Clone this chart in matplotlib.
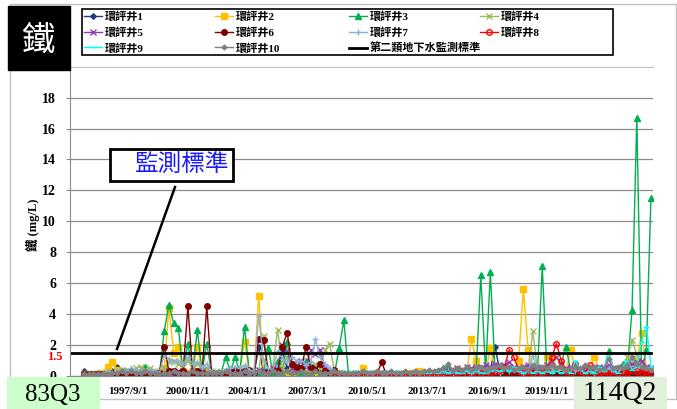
import numpy as np
import pandas as pd
import matplotlib
matplotlib.use("Agg")
import matplotlib.pyplot as plt
from matplotlib.patches import Rectangle
from matplotlib.lines import Line2D

plt.rcParams['font.family'] = ['Liberation Serif', 'Noto Sans CJK TC']

nan = np.nan

# quarterly sampling dates, 83Q3 .. 114Q2
dates = pd.date_range('1994-08-01', periods=124, freq='3MS')

well1 = [nan, nan, nan, 0.3, 0.1, 0.1, 0.2, 0.1, 0.2, 0.3,
         0.6, 0.2, 0.1, 0.1, 0.2, 0.1, 0.1, 0.1, 0.2, 0.1,
         0.1, 0.2, 0.1, 0.1, 0.2, 0.1, 0.1, 0.2, 0.1, 0.1,
         0.1, 0.1, 0.1, 0.2, 0.1, 0.1, 0.2, 0.1, 0.1, 0.1,
         1.9, 0.2, 0.1, 0.3, 0.1, 1.6, 0.5, 0.2, 0.1, 0.3,
         0.2, 0.1, 0.1, 0.3, 0.1, 0.1, 0.1, 0.1, 0.1, 0.1,
         0.1, 0.1, 0.1, 0.1, 0.1, 0.1, 0.1, 0.1, 0.1, 0.1,
         0.1, 0.1, 0.1, 0.1, 0.1, 0.2, 0.1, 0.1, 0.2, 0.1,
         0.2, 0.1, 0.2, 0.1, 0.3, 0.2, 0.1, 0.2, 0.3, 0.4,
         1.9, 0.3, 0.2, 0.5, 0.3, 0.2, 0.3, 0.2, 0.3, 0.2,
         0.3, 0.2, 0.4, 0.3, 0.5, 0.2, 0.3, 0.2, 0.3, 0.2,
         0.3, 0.2, 0.2, 0.4, 0.3, 0.2, 0.3, 0.2, 0.5, 0.3,
         0.2, 0.4, 0.3, 0.2]
well2 = [nan, nan, nan, 0.1, 0.1, 0.1, 0.1, 0.2, 0.6, 0.9,
         0.4, 0.3, 0.2, 0.1, 0.1, 0.2, 0.1, 0.1, 0.2, 0.1,
         0.5, 4.4, 1.5, 1.9, 0.3, 0.2, 0.3, 1.9, 0.2, 0.3,
         0.1, 0.1, 0.2, 0.1, 0.2, 0.1, 0.3, 2.2, 0.3, 0.2,
         5.2, 0.2, 0.1, 0.2, 0.1, 0.2, 0.1, 0.3, 0.1, 0.2,
         0.1, 0.1, 0.2, 0.1, 0.2, 0.1, 0.1, 0.2, 0.1, 0.1,
         0.1, 0.1, 0.5, 0.1, 0.1, 0.2, 0.1, 0.1, 0.1, 0.1,
         0.1, 0.1, 0.2, 0.1, 0.3, 0.2, 0.1, 0.2, 0.2, 0.3,
         0.2, 0.3, 0.4, 0.3, 0.2, 2.4, 1.0, 0.3, 0.2, 1.8,
         0.3, 0.2, 0.4, 0.3, 0.2, 1.0, 5.6, 1.7, 0.3, 0.2,
         0.3, 1.2, 1.2, 0.5, 0.3, 0.3, 1.7, 0.4, 0.2, 0.3,
         0.3, 1.2, 0.4, 0.3, 0.5, 0.3, 0.2, 0.5, 0.6, 1.0,
         1.0, 2.8, 0.5, 0.3]
well3 = [nan, nan, nan, 0.1, 0.1, 0.1, 0.1, 0.1, 0.2, 0.1,
         0.2, 0.3, 0.3, 0.4, 0.2, 0.3, 0.6, 0.3, 0.2, 0.1,
         2.9, 4.6, 3.4, 3.1, 0.2, 2.1, 0.2, 3.0, 0.3, 2.1,
         0.2, 0.1, 0.2, 1.2, 0.3, 1.2, 0.3, 3.2, 0.2, 0.1,
         0.2, 0.3, 1.8, 0.2, 1.0, 0.2, 2.2, 0.3, 0.8, 0.2,
         1.0, 0.2, 0.5, 0.1, 0.3, 0.2, 0.1, 1.8, 3.6, 0.1,
         0.1, 0.1, 0.1, 0.1, 0.1, 0.1, 0.2, 0.1, 0.1, 0.1,
         0.1, 0.1, 0.1, 0.1, 0.1, 0.1, 0.1, 0.2, 0.3, 0.5,
         0.6, 0.3, 0.2, 0.3, 0.2, 0.4, 0.3, 6.5, 0.2, 6.7,
         0.3, 0.5, 0.4, 0.2, 0.3, 0.2, 0.3, 0.4, 0.3, 0.2,
         7.1, 0.2, 0.4, 0.3, 0.8, 1.9, 0.3, 0.2, 0.3, 0.4,
         0.3, 0.2, 0.5, 0.3, 1.6, 0.3, 0.4, 0.8, 0.5, 4.3,
         16.7, 0.3, 1.7, 11.5]
well4 = [nan, nan, nan, 0.1, 0.1, 0.1, 0.1, 0.1, 0.2, 0.2,
         0.3, 0.4, 0.3, 0.2, 0.5, 0.6, 0.4, 0.5, 0.3, 0.2,
         0.5, 0.9, 1.0, 0.8, 0.6, 1.0, 0.5, 0.8, 0.4, 0.5,
         0.2, 0.3, 0.2, 0.3, 0.2, 0.4, 0.3, 0.5, 0.3, 0.2,
         0.3, 2.6, 0.4, 0.6, 3.0, 0.5, 1.2, 0.4, 0.8, 0.6,
         0.3, 0.4, 0.8, 0.5, 1.7, 2.1, 0.3, 0.2, 0.1, 0.1,
         0.1, 0.1, 0.1, 0.1, 0.1, 0.1, 0.1, 0.1, 0.1, 0.1,
         0.1, 0.1, 0.1, 0.1, 0.1, 0.1, 0.2, 0.1, 0.2, 0.1,
         0.2, 0.3, 0.2, 0.3, 0.2, 0.4, 0.3, 0.2, 0.4, 0.3,
         0.2, 0.3, 0.4, 0.3, 0.2, 0.4, 0.3, 0.5, 2.9, 0.3,
         0.4, 0.3, 0.6, 0.3, 0.4, 0.3, 0.5, 0.3, 0.2, 0.4,
         0.3, 0.4, 0.3, 0.2, 0.5, 0.3, 0.4, 0.6, 1.2, 2.3,
         1.4, 0.8, 0.5, 0.3]
well5 = [nan, nan, nan, 0.1, 0.1, 0.1, 0.1, 0.1, 0.1, 0.1,
         0.1, 0.2, 0.1, 0.1, 0.2, 0.1, 0.2, 0.2, 0.1, 0.2,
         0.2, 0.3, 0.2, 0.3, 0.2, 0.2, 0.3, 0.2, 0.3, 0.2,
         0.1, 0.2, 0.2, 0.1, 0.2, 0.2, 0.3, 0.2, 0.3, 0.2,
         0.4, 0.3, 0.2, 0.5, 0.4, 2.0, 1.6, 0.5, 0.4, 1.0,
         0.6, 1.7, 1.4, 1.7, 0.5, 0.3, 0.2, 0.2, 0.1, 0.1,
         0.1, 0.2, 0.1, 0.1, 0.2, 0.1, 0.1, 0.2, 0.1, 0.1,
         0.2, 0.1, 0.1, 0.2, 0.1, 0.2, 0.1, 0.2, 0.2, 0.3,
         0.3, 0.4, 0.5, 0.4, 0.6, 0.5, 0.6, 0.5, 0.7, 0.6,
         0.8, 0.6, 0.7, 0.9, 0.6, 0.5, 0.6, 0.7, 0.5, 0.6,
         0.5, 0.7, 1.0, 1.2, 0.8, 0.5, 0.6, 0.5, 0.4, 0.5,
         0.4, 0.5, 0.6, 0.5, 0.7, 0.5, 0.4, 0.6, 0.7, 0.8,
         0.9, 1.0, 0.6, 0.5]
well6 = [nan, nan, nan, 0.1, 0.1, 0.1, 0.1, 0.1, 0.1, 0.2,
         0.1, 0.1, 0.1, 0.2, 0.1, 0.1, 0.1, 0.1, 0.1, 0.2,
         1.9, 0.3, 0.3, 0.2, 0.3, 4.5, 0.2, 0.3, 0.2, 4.5,
         0.2, 0.1, 0.2, 0.2, 0.3, 0.3, 0.4, 0.3, 0.4, 0.2,
         2.4, 2.3, 0.3, 0.4, 0.3, 1.9, 2.8, 0.8, 0.6, 0.5,
         1.9, 0.6, 0.4, 0.8, 0.3, 0.2, 0.4, 0.1, 0.1, 0.1,
         0.1, 0.1, 0.1, 0.1, 0.1, 0.1, 0.9, 0.1, 0.1, 0.1,
         0.1, 0.1, 0.1, 0.1, 0.1, 0.1, 0.1, 0.1, 0.1, 0.1,
         0.1, 0.1, 0.2, 0.1, 0.1, 0.1, 0.2, 0.1, 0.1, 0.2,
         0.1, 0.1, 0.1, 0.2, 0.1, 0.1, 0.1, 0.1, 0.2, 0.1,
         0.1, 0.1, 0.2, 0.1, 0.1, 0.1, 0.1, 0.2, 0.1, 0.1,
         0.1, 0.1, 0.1, 0.2, 0.1, 0.1, 0.1, 0.1, 0.2, 0.1,
         0.1, 0.2, 0.1, 0.1]
well7 = [nan, nan, nan, 0.1, 0.1, 0.2, 0.1, 0.2, 0.3, 0.2,
         0.3, 0.4, 0.3, 0.5, 0.3, 0.4, 0.3, 0.4, 0.3, 0.2,
         1.4, 1.1, 0.9, 1.0, 0.8, 1.2, 0.8, 0.9, 0.6, 0.8,
         0.3, 0.2, 0.3, 0.4, 0.5, 0.6, 0.5, 0.7, 0.4, 0.3,
         3.9, 1.0, 0.5, 0.4, 1.6, 1.1, 0.9, 1.2, 1.0, 1.0,
         0.7, 0.9, 2.4, 1.2, 0.8, 0.5, 0.3, 0.2, 0.2, 0.2,
         0.2, 0.2, 0.2, 0.2, 0.2, 0.2, 0.2, 0.2, 0.2, 0.2,
         0.2, 0.2, 0.2, 0.2, 0.2, 0.2, 0.2, 0.2, 0.2, 0.2,
         0.3, 0.2, 0.3, 0.4, 0.3, 0.2, 0.3, 0.4, 0.3, 0.4,
         0.3, 0.2, 0.5, 0.3, 0.4, 0.3, 0.2, 0.3, 1.3, 0.4,
         0.3, 0.4, 0.3, 0.5, 0.6, 0.3, 0.4, 0.3, 0.4, 0.3,
         0.3, 0.2, 0.4, 0.3, 0.5, 0.3, 0.4, 0.3, 0.7, 1.1,
         0.8, 0.6, 0.5, 0.4]
well8 = [nan, nan, nan, nan, nan, nan, nan, nan, nan, nan,
         nan, nan, nan, nan, nan, nan, nan, nan, nan, nan,
         nan, nan, nan, nan, nan, nan, nan, nan, nan, nan,
         nan, nan, nan, nan, nan, nan, nan, nan, nan, nan,
         nan, nan, nan, nan, nan, nan, nan, nan, nan, nan,
         nan, nan, nan, nan, nan, nan, 0.1, 0.1, 0.1, 0.1,
         0.1, 0.1, 0.1, 0.1, 0.1, 0.1, 0.1, 0.1, 0.1, 0.1,
         0.1, 0.1, 0.1, 0.1, 0.1, 0.1, 0.1, 0.1, 0.1, 0.1,
         0.1, 0.1, 0.2, 0.1, 0.1, 0.2, 0.1, 0.2, 0.1, 0.2,
         0.3, 0.4, 0.6, 1.7, 1.2, 0.4, 0.2, 0.3, 0.2, 0.3,
         0.2, 0.4, 1.2, 2.1, 1.0, 0.3, 0.2, 0.8, 0.3, 0.2,
         0.7, 0.3, 0.2, 0.1, 0.2, 0.1, 0.2, 0.3, 0.2, 0.4,
         0.3, 0.2, 0.3, 0.2]
well9 = [nan, nan, nan, nan, nan, nan, nan, nan, nan, nan,
         nan, nan, nan, nan, nan, nan, nan, nan, nan, nan,
         nan, nan, nan, nan, nan, nan, nan, nan, nan, nan,
         nan, nan, nan, nan, nan, nan, nan, nan, nan, nan,
         nan, nan, nan, nan, nan, nan, nan, nan, nan, nan,
         nan, nan, nan, nan, nan, nan, 0.3, 0.2, 0.3, 0.2,
         0.3, 0.2, 0.4, 0.3, 0.2, 0.3, 0.2, 0.3, 0.2, 0.3,
         0.2, 0.3, 0.2, 0.2, 0.3, 0.2, 0.2, 0.3, 0.2, 0.3,
         0.2, 0.3, 0.2, 0.2, 0.3, 0.2, 0.3, 0.2, 0.2, 0.3,
         0.4, 0.3, 0.5, 0.3, 0.6, 0.3, 0.2, 0.3, 0.2, 0.3,
         0.2, 0.3, 0.2, 0.3, 0.2, 0.3, 0.2, 1.0, 0.4, 0.2,
         0.3, 0.2, 0.6, 0.3, 1.5, 0.3, 0.2, 0.6, 1.0, 0.4,
         0.6, 2.2, 3.2, 0.6]
well10 = [nan, nan, nan, 0.1, 0.1, 0.1, 0.1, 0.1, 0.1, 0.2,
          0.2, 0.3, 0.2, 0.3, 0.2, 0.2, 0.3, 0.2, 0.2, 0.1,
          0.2, 0.2, 0.3, 0.2, 0.2, 0.2, 0.3, 0.2, 0.2, 0.2,
          0.2, 0.2, 0.2, 0.3, 0.2, 0.2, 0.2, 0.3, 0.2, 0.2,
          0.3, 0.2, 0.2, 0.3, 0.2, 0.2, 0.3, 0.2, 0.2, 0.3,
          0.2, 0.2, 0.3, 0.2, 0.2, 0.2, 0.3, 0.2, 0.2, 0.2,
          0.2, 0.2, 0.3, 0.2, 0.2, 0.3, 0.2, 0.2, 0.3, 0.2,
          0.2, 0.3, 0.2, 0.3, 0.2, 0.3, 0.4, 0.3, 0.4, 0.5,
          0.8, 0.4, 0.5, 0.4, 0.6, 0.4, 0.5, 0.6, 0.4, 0.5,
          0.6, 0.7, 0.5, 0.6, 0.4, 0.5, 0.6, 0.4, 0.7, 0.5,
          0.6, 0.5, 0.7, 0.5, 0.6, 0.4, 0.5, 0.6, 0.5, 0.7,
          0.5, 0.6, 0.4, 0.5, 1.1, 0.5, 0.6, 0.5, 0.7, 1.2,
          0.8, 0.6, 0.5, 0.4]
standard = [1.5] * 124

labels = ['環評井1', '環評井2', '環評井3', '環評井4', '環評井5',
          '環評井6', '環評井7', '環評井8', '環評井9', '環評井10']
series = [well1, well2, well3, well4, well5, well6, well7, well8, well9, well10]
colors = ['#1F3A78', '#FFC000', '#00B050', '#9BBB59', '#8E3CB0',
          '#800000', '#8DB0DA', '#FF0000', '#00FFFF', '#808080']
markers = ['D', 's', '^', 'x', 'x', 'o', '+', 'o', '_', 'D']
msizes = [2.8, 3.8, 4.0, 4.0, 4.0, 4.0, 4.5, 4.0, 5.0, 2.5]

fig = plt.figure(figsize=(6.77, 4.09), dpi=100)
W, H = 677, 409

def fx(px):
    return px / W

def fy(py):
    return 1 - py / H

# outer chart frame
fig.patches.append(Rectangle((fx(10), fy(399)), fx(666), 395 / H, transform=fig.transFigure,
                             fill=False, ec='#BFBFBF', lw=1, zorder=0))

ax = fig.add_axes([fx(70), fy(376), fx(582.7), (376 - 66.7) / H])

lines = []
for s, lab, c, m, ms in zip(series, labels, colors, markers, msizes):
    mfc = 'none' if lab == '環評井8' else c
    ln, = ax.plot(dates, s, color=c, lw=1.0, marker=m, ms=ms, mfc=mfc, mec=c,
                  mew=1.0, label=lab)
    lines.append(ln)
std_ln, = ax.plot(dates, standard, color='black', lw=2.0, label='第二類地下水監測標準')

ax.set_ylim(0, 20)
ax.set_yticks(np.arange(0, 19, 2))
ax.set_xlim(pd.Timestamp('1994-08-07'), pd.Timestamp('2025-06-04'))
xt = pd.date_range('1997-09-01', '2020-01-01', freq='38MS')
ax.set_xticks(xt)
ax.set_xticklabels([f'{d.year}/{d.month}/{d.day}' for d in xt])

ax.yaxis.grid(True, color='#8C8C8C', lw=0.9)
ax.set_axisbelow(True)
ax.spines['right'].set_visible(False)
ax.spines['top'].set_color('#BFBFBF')
ax.spines['left'].set_color('#8C8C8C')
ax.spines['bottom'].set_color('#8C8C8C')
ax.tick_params(axis='y', length=3, color='#8C8C8C', pad=7, labelsize=10)
ax.tick_params(axis='x', length=0, pad=8, labelsize=8)
for t in ax.get_yticklabels() + ax.get_xticklabels():
    t.set_fontweight('bold')

ax.set_ylabel('鐵 (mg/L)', fontsize=9, fontweight='bold')
ax.yaxis.set_label_coords(-0.052, 0.49)

# red 1.5 label
ax.text(-0.012, 1.2, '1.5', color='red', fontsize=9, fontweight='bold',
        ha='right', va='center', transform=ax.get_yaxis_transform())

# legend in four columns inside one frame
cols = [[lines[0], lines[4], lines[8]],
        [lines[1], lines[5], lines[9]],
        [lines[2], lines[6], std_ln],
        [lines[3], lines[7]]]
col_x = [84, 215, 349, 480]
for hs, x0 in zip(cols, col_x):
    fig.legend(handles=hs, loc='upper left', bbox_to_anchor=(fx(x0), fy(11)),
               frameon=False, borderpad=0, borderaxespad=0,
               handlelength=1.6, handletextpad=0.3, labelspacing=0.45,
               prop={'weight': 'bold', 'size': 8})
fig.patches.append(Rectangle((fx(82), fy(55)), fx(531), 46 / H, transform=fig.transFigure,
                             fill=False, ec='black', lw=1.2, zorder=5))

# black title box
fig.patches.append(Rectangle((fx(8), fy(70)), fx(62), 64 / H, transform=fig.transFigure,
                             fc='black', ec='black', zorder=6))
fig.text(fx(39), fy(40), '鐵', color='white', fontsize=24, ha='center', va='center',
         family=['Noto Sans CJK TC'], zorder=7)

# callout box for the standard
fig.patches.append(Rectangle((fx(110), fy(181)), fx(123), 32 / H, transform=fig.transFigure,
                             fc='white', ec='black', lw=2, zorder=6))
fig.text(fx(182), fy(165), '監測標準', color='#1A1AFF', fontsize=17, ha='center', va='center',
         family=['Noto Sans CJK TC'], zorder=7)
fig.add_artist(Line2D([fx(175), fx(117)], [fy(187), fy(349)], color='black', lw=1.8,
                      transform=fig.transFigure, zorder=6))

# period boxes
fig.patches.append(Rectangle((fx(7), 0), fx(93), 32 / H, transform=fig.transFigure,
                             fc='#CCFFCC', ec='none', zorder=6))
fig.text(fx(53), fy(395), '83Q3', fontsize=18, ha='center', va='center', zorder=7)
fig.patches.append(Rectangle((fx(574), 0), fx(93), 32 / H, transform=fig.transFigure,
                             fc='#E2EFDA', ec='none', zorder=6))
fig.text(fx(620), fy(394), '114Q2', fontsize=20, ha='center', va='center', zorder=7)

fig.savefig('out.png', dpi=100)
